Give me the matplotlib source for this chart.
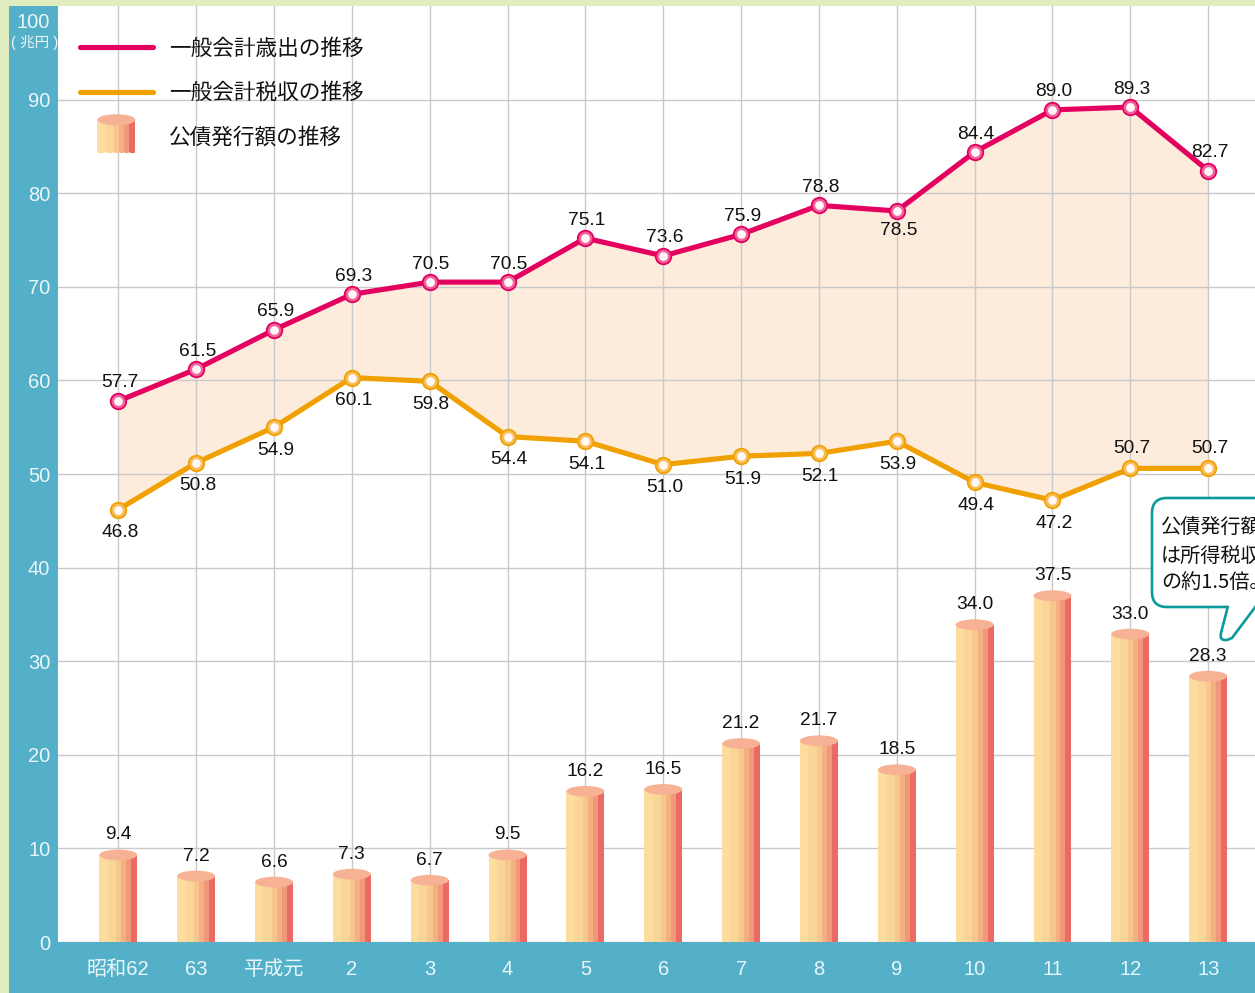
import matplotlib
matplotlib.use("Agg")
import matplotlib.pyplot as plt
from matplotlib.patches import Ellipse, Rectangle, FancyBboxPatch, PathPatch
from matplotlib.path import Path
from matplotlib.lines import Line2D
from matplotlib.legend_handler import HandlerBase
from matplotlib.transforms import IdentityTransform

plt.rcParams['font.family'] = ['Liberation Sans', 'Noto Sans CJK JP', 'DejaVu Sans']

categories = ['昭和62', '63', '平成元', '2', '3', '4', '5', '6', '7', '8', '9', '10', '11', '12', '13']
# printed values
expenditure_labels = ['57.7', '61.5', '65.9', '69.3', '70.5', '70.5', '75.1', '73.6', '75.9', '78.8', '78.5', '84.4', '89.0', '89.3', '82.7']
tax_labels = ['46.8', '50.8', '54.9', '60.1', '59.8', '54.4', '54.1', '51.0', '51.9', '52.1', '53.9', '49.4', '47.2', '50.7', '50.7']
bond_labels = ['9.4', '7.2', '6.6', '7.3', '6.7', '9.5', '16.2', '16.5', '21.2', '21.7', '18.5', '34.0', '37.5', '33.0', '28.3']
# heights as drawn in the picture
expenditure = [57.8, 61.2, 65.4, 69.2, 70.5, 70.5, 75.2, 73.3, 75.6, 78.7, 78.1, 84.4, 88.9, 89.2, 82.4]
tax_revenue = [46.2, 51.2, 55.0, 60.3, 59.9, 54.0, 53.5, 51.0, 51.9, 52.2, 53.5, 49.1, 47.2, 50.6, 50.6]
bonds = [9.3, 7.05, 6.4, 7.25, 6.6, 9.3, 16.1, 16.3, 21.2, 21.5, 18.4, 33.9, 37.0, 32.9, 28.4]
y_ticks = [0, 10, 20, 30, 40, 50, 60, 70, 80, 90]
names = ['一般会計歳出の推移', '一般会計税収の推移', '公債発行額の推移']
top_tick = '100'
unit = '( 兆円 )'
note = '公債発行額\nは所得税収\nの約1.5倍。'

W, H = 1255, 993
TEAL, GREEN = '#53B0C8', '#E0EDBE'
PINK, ORANGE = '#E4005F', '#F0A000'
FILL = '#FDEBDC'
GRID = '#C9C9C9'
TOP = '#F7B295'
LIGHT = '#EAF6F9'
INK = '#111111'
STRIPES = [(0.00, 0.22, '#FCDD9E'), (0.22, 0.44, '#FAD598'), (0.44, 0.58, '#F8C68F'),
           (0.58, 0.71, '#F5B082'), (0.71, 0.84, '#F2987A'), (0.84, 1.00, '#EC6A64')]

fig = plt.figure(figsize=(W / 100, H / 100), dpi=100, facecolor=TEAL)
fig.patches.append(Rectangle((0, 0), 9 / W, 1, transform=fig.transFigure, fc=GREEN, ec='none'))
fig.patches.append(Rectangle((0, 1 - 6 / H), 1, 6 / H, transform=fig.transFigure, fc=GREEN, ec='none'))

ax = fig.add_axes([58 / W, (H - 942) / H, (W - 58) / W, (942 - 6) / H])
step = 77.85
x0 = 118.3
ax.set_xlim((58 - x0) / step, (W - x0) / step)
ax.set_ylim(0, 936 / 9.36)
ax.set_facecolor('white')
for s in ax.spines.values():
    s.set_visible(False)

xs = list(range(len(categories)))
ax.set_xticks(xs, categories)
ax.set_yticks(y_ticks, [str(v) for v in y_ticks])
ax.tick_params(axis='both', length=0, labelsize=14.5, labelcolor=LIGHT)
ax.tick_params(axis='x', pad=13)
ax.tick_params(axis='y', pad=5.5)
ax.grid(True, color=GRID, lw=1)
ax.set_axisbelow('line')
fig.text(50 / W, 1 - 23 / H, top_tick, color=LIGHT, fontsize=14.5, ha='right', va='center')
fig.text(34.5 / W, 1 - 42 / H, unit, color=LIGHT, fontsize=10.5, ha='center', va='center')

# band between expenditure and tax revenue
ax.fill_between(xs, tax_revenue, expenditure, color=FILL, lw=0, zorder=1)

# cylinders
bw = 0.488
for x, v, s in zip(xs, bonds, bond_labels):
    for a, b, c in STRIPES:
        ax.bar(x - bw / 2 + a * bw, v, width=(b - a) * bw, align='edge', color=c, lw=0, zorder=3)
    ax.add_patch(Ellipse((x, v), bw, 1.15, fc=TOP, ec='none', zorder=3.1))
    ax.annotate(s, (x, v), xytext=(0, 20 * 0.72), textcoords='offset points',
                ha='center', va='center', fontsize=13.8, color=INK, zorder=6)

# lines
for vals, col, ring in ((expenditure, PINK, '#F0639B'), (tax_revenue, ORANGE, '#F7BE5A')):
    ax.plot(xs, vals, color=col, lw=3.7, zorder=4, solid_joinstyle='round',
            marker='o', ms=11.2, mfc=ring, mec=col, mew=1.3)
    ax.plot(xs, vals, ls='none', zorder=4.1, marker='o', ms=6.3, mfc='#FFF8F6', mew=0)


def lab(x, v, s, dy):
    ax.annotate(s, (x, v), xytext=(1, dy * 0.72), textcoords='offset points',
                ha='center', va='center', fontsize=13.8, color=INK, zorder=6)


for i, (x, v, s) in enumerate(zip(xs, expenditure, expenditure_labels)):
    lab(x, v, s, -20 if i == 10 else 18)
for i, (x, v, s) in enumerate(zip(xs, tax_revenue, tax_labels)):
    lab(x, v, s, -23 if i < 13 else 20)


class CylinderHandler(HandlerBase):
    def create_artists(self, legend, orig, xd, yd, width, height, fontsize, trans):
        w, h = 38 * 0.72, 32 * 0.72
        left = -xd + (width - w) / 2
        bottom = -yd + (height - h) / 2
        arts = [Ellipse((left + a * w + (b - a) * w / 2, bottom), (b - a) * w, 2, fc=c, ec='none', transform=trans)
                for a, b, c in STRIPES]
        for a, b, c in STRIPES:
            arts.append(Rectangle((left + a * w, bottom), (b - a) * w, h, fc=c, ec='none', transform=trans))
        arts.append(Ellipse((left + w / 2, bottom + h), w, 8, fc=TOP, ec='none', transform=trans))
        return arts


handles = [Line2D([], [], color=PINK, lw=3.7, solid_capstyle='round'),
           Line2D([], [], color=ORANGE, lw=3.7, solid_capstyle='round'),
           Rectangle((0, 0), 1, 1)]
leg = ax.legend(handles, names, handler_map={Rectangle: CylinderHandler()}, frameon=False,
                fontsize=15.6, handlelength=3.4, handletextpad=0.72, labelspacing=1.07,
                loc='upper left', bbox_to_anchor=(21.5 / 1197, 1 - 33 / 936), borderaxespad=0, borderpad=0)
for t in leg.get_texts():
    t.set_color(INK)
leg.set_zorder(7)

# callout, drawn in display pixels
TEALLINE = '#0B9A9A'


def P(x, y):
    return (x, H - y)


box = FancyBboxPatch(P(1167, 592), 130, 79, boxstyle='round,pad=15,rounding_size=15',
                     transform=IdentityTransform(), fc='white', ec=TEALLINE, lw=1.9, zorder=8, clip_on=False)
ax.add_patch(box)
ax.add_patch(PathPatch(Path([P(1229, 604), P(1258, 604), P(1258, 612), P(1229, 612), P(1229, 604)]),
                       transform=IdentityTransform(), fc='white', ec='none', zorder=8.1, clip_on=False))
tail = Path([P(1228, 606), P(1221, 633), P(1219, 641), P(1227, 640), P(1232, 638), P(1256, 606)],
            [Path.MOVETO, Path.LINETO, Path.CURVE3, Path.CURVE3, Path.LINETO, Path.LINETO])
ax.add_patch(PathPatch(tail, transform=IdentityTransform(), fc='white', ec=TEALLINE, lw=1.9, zorder=8.2, clip_on=False))
fig.text(1161 / W, 1 - 556 / H, note, fontsize=14.5, color=INK, ha='left', va='center',
         linespacing=1.4, zorder=9, family=['Noto Sans CJK JP', 'DejaVu Sans'])

fig.savefig('out.png', dpi=100, facecolor=fig.get_facecolor())
